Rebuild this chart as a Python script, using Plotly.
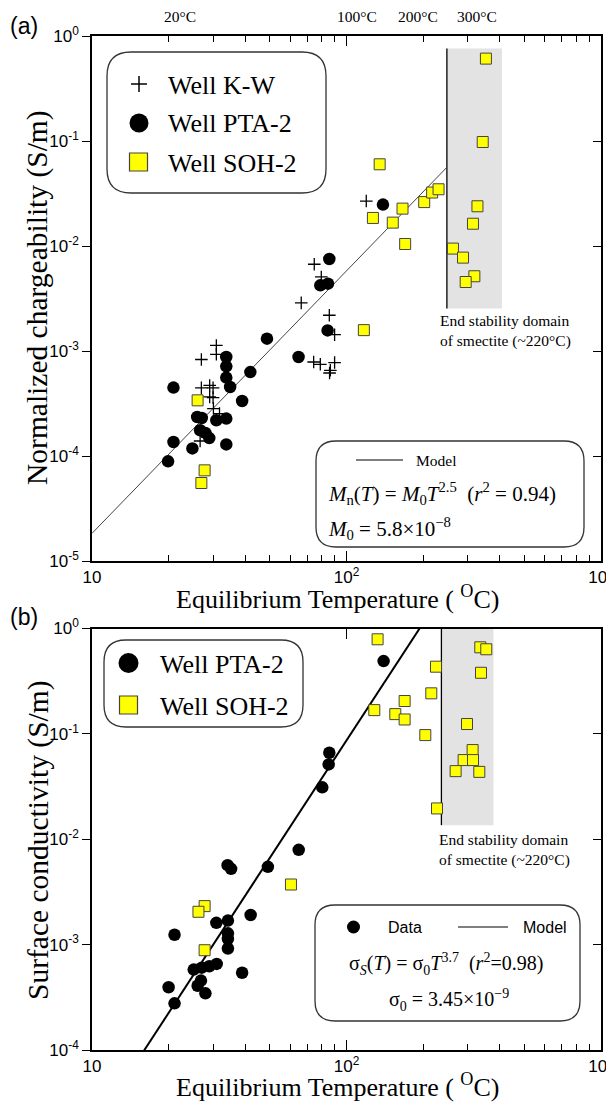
import plotly.graph_objects as go

W, H = 614, 1107
OFF = 8  # page body margin offset of the screenshot
SANS = "Liberation Sans, Arial, sans-serif"
SERIF = "Liberation Serif, Times New Roman, serif"

# ---------------- data: panel (a) normalized chargeability ----------------
kw_T = [30.8, 30.8, 26.9, 26.9, 29.0, 29.9, 29.0, 29.9, 30.0, 31.7, 26.6,
        74.7, 79.6, 66.4, 85.6, 89.8, 74.3, 78.9, 89.8, 86.4, 85.8, 119.6]
kw_M = [1.13e-3, 9.3e-4, 8.3e-4, 4.45e-4, 4.7e-4, 4.45e-4, 3.65e-4, 3.6e-4, 2.83e-4, 2.53e-4, 1.39e-4,
        6.7e-3, 5.07e-3, 2.87e-3, 2.19e-3, 1.43e-3, 7.86e-4, 7.47e-4, 7.76e-4, 6.55e-4, 6.17e-4, 2.68e-2]
pta_a_T = [33.7, 33.7, 33.7, 34.9, 41.9, 20.9, 38.9, 25.9, 27.0, 30.8, 33.7, 26.6, 27.9,
           28.9, 20.9, 24.8, 33.7, 19.9, 85.6, 78.9, 84.6, 84.3, 48.7, 64.8, 139.1]
pta_a_M = [8.77e-4, 7.15e-4, 5.58e-4, 4.54e-4, 6.3e-4, 4.48e-4, 3.34e-4, 2.35e-4, 2.3e-4, 2.19e-4,
           2.27e-4, 1.76e-4, 1.66e-4, 1.48e-4, 1.36e-4, 1.18e-4, 1.29e-4, 8.9e-5, 7.52e-3, 4.22e-3,
           4.38e-3, 1.57e-3, 1.31e-3, 8.77e-4, 2.48e-2]
soh_a_T = [353, 343, 135, 327, 314, 262, 287, 318, 294, 127, 152, 166, 202, 217, 230, 170,
           117, 26.0, 27.7, 26.9]
soh_a_M = [0.609, 0.0978, 0.060, 0.0239, 0.0163, 9.45e-3, 7.75e-3, 5.15e-3, 4.54e-3, 0.0185,
           0.0167, 0.0227, 0.0262, 0.0323, 0.0347, 0.01045, 1.58e-3, 3.39e-4, 7.3e-5, 5.53e-5]

# ---------------- data: panel (b) surface conductivity ----------------
pta_b_T = [139.9, 85.6, 85.1, 80.3, 64.9, 49.1, 34.1, 35.2, 42.0, 30.8, 34.2, 34.2, 34.2, 34.2,
           21.1, 38.9, 30.9, 28.9, 27.0, 25.1, 26.8, 26.0, 20.0, 27.9, 21.1]
pta_b_S = [0.491, 0.0662, 0.0513, 0.0311, 7.93e-3, 5.47e-3, 5.68e-3, 5.24e-3, 1.91e-3, 1.61e-3,
           1.69e-3, 1.28e-3, 1.13e-3, 9.18e-4, 1.24e-3, 5.41e-4, 6.56e-4, 6.24e-4, 6.04e-4, 5.8e-4,
           4.56e-4, 4.07e-4, 3.94e-4, 3.45e-4, 2.77e-4]
soh_b_T = [27.7, 26.2, 27.7, 60.5, 132.5, 128.6, 155.5, 169.2, 169.2, 204.0, 215.4, 224.7, 226.8,
           335.5, 354.2, 337.7, 297.5, 313.0, 288.5, 314.1, 268.4, 332.5]
soh_b_S = [2.32e-3, 2.05e-3, 8.85e-4, 3.72e-3, 0.790, 0.168, 0.154, 0.205, 0.137, 0.0974, 0.2425,
           0.434, 0.0196, 0.663, 0.635, 0.380, 0.124, 0.0702, 0.0564, 0.0564, 0.0443, 0.0436]

# models and smectite domains
M0, nA = 5.8e-8, 2.5
S0, nB = 3.45e-9, 3.7
model_a_T = [10, 248]
model_b_T = [10, 250]
band_a_T = [248, 408]
band_a_y = [2.54e-3, 0.76]
band_b_T = [236, 378]
band_b_y = [0.0136, 1.0]

# ticks
x_major = [10, 100, 1000]
x_major_text = ["10", "10<sup>2</sup>", "10<sup>3</sup>"]
x_minor = [20, 30, 40, 50, 60, 70, 80, 90, 200, 300, 400, 500, 600, 700, 800, 900]
ya_vals = [1e-5, 1e-4, 1e-3, 1e-2, 1e-1, 1]
ya_text = ["10<sup>-5</sup>", "10<sup>-4</sup>", "10<sup>-3</sup>", "10<sup>-2</sup>", "10<sup>-1</sup>", "10<sup>0</sup>"]
yb_vals = [1e-4, 1e-3, 1e-2, 1e-1, 1]
yb_text = ["10<sup>-4</sup>", "10<sup>-3</sup>", "10<sup>-2</sup>", "10<sup>-1</sup>", "10<sup>0</sup>"]
top_labels = ["20°C", "100°C", "200°C", "300°C"]

fig = go.Figure()

def band(T, yr, xa, ya):
    fig.add_trace(go.Scatter(x=[T[0], T[1], T[1], T[0], T[0]], y=[yr[0], yr[0], yr[1], yr[1], yr[0]],
                             fill="toself", fillcolor="#e3e3e3", mode="lines", line=dict(width=0),
                             xaxis=xa, yaxis=ya, hoverinfo="skip", showlegend=False))
    fig.add_trace(go.Scatter(x=[T[0], T[0]], y=yr, mode="lines", line=dict(color="black", width=1.3),
                             xaxis=xa, yaxis=ya, hoverinfo="skip", showlegend=False))

band(band_a_T, band_a_y, "x", "y")
band(band_b_T, band_b_y, "x3", "y3")

fig.add_trace(go.Scatter(x=model_a_T, y=[M0 * t ** nA for t in model_a_T], mode="lines",
                         line=dict(color="#444", width=1), xaxis="x", yaxis="y", showlegend=False))
fig.add_trace(go.Scatter(x=model_b_T, y=[S0 * t ** nB for t in model_b_T], mode="lines",
                         line=dict(color="black", width=2), xaxis="x3", yaxis="y3", showlegend=False))

circ = dict(symbol="circle", size=12.5, color="black", line=dict(width=0))
sq = dict(symbol="square", size=11, color="#ffff00", line=dict(color="#444", width=1))
cr = dict(symbol="cross-thin", size=9, line=dict(color="black", width=1.3))

fig.add_trace(go.Scatter(x=kw_T, y=kw_M, mode="markers", marker=cr, name="Well K-W", xaxis="x", yaxis="y", showlegend=False))
fig.add_trace(go.Scatter(x=pta_a_T, y=pta_a_M, mode="markers", marker=circ, name="Well PTA-2", xaxis="x", yaxis="y", showlegend=False))
fig.add_trace(go.Scatter(x=soh_a_T, y=soh_a_M, mode="markers", marker=sq, name="Well SOH-2", xaxis="x", yaxis="y", showlegend=False))
fig.add_trace(go.Scatter(x=pta_b_T, y=pta_b_S, mode="markers", marker=circ, name="Well PTA-2", xaxis="x3", yaxis="y3", showlegend=False))
fig.add_trace(go.Scatter(x=soh_b_T, y=soh_b_S, mode="markers", marker=sq, name="Well SOH-2", xaxis="x3", yaxis="y3", showlegend=False))
# register overlay subplots
for xa, ya in [("x2", "y"), ("x", "y2"), ("x4", "y3"), ("x3", "y4")]:
    fig.add_trace(go.Scatter(x=[], y=[], xaxis=xa, yaxis=ya, showlegend=False, hoverinfo="skip"))

# screen-pixel helpers (screen = figure + OFF)
def fx(x):
    return (x - OFF) / W
def fy(y):
    return 1 - (y - OFF) / H

XD = [fx(92), fx(601)]
YA = [fy(561), fy(36)]
YB = [fy(1050), fy(628.5)]

tickfont = dict(family=SANS, size=17, color="black")
def xax(anchor, top=False, overlay=None, minor=True, vals=x_major):
    d = dict(type="log", range=[1, 3], domain=XD, anchor=anchor, showgrid=False, zeroline=False,
             ticks="inside", tickvals=vals, ticktext=x_major_text if not top else None,
             ticklen=10, tickwidth=1.2, tickcolor="black", tickfont=tickfont,
             showticklabels=not top)
    if minor:
        d["minor"] = dict(tickvals=x_minor, ticks="inside", ticklen=6, tickwidth=1, tickcolor="black")
    if top:
        d.update(side="top", overlaying=overlay, showline=False)
    else:
        d.update(showline=True, linecolor="black", linewidth=1.5, mirror=True)
    return d

def yax(anchor, dom, rng, vals, text, right=False, overlay=None):
    d = dict(type="log", range=rng, anchor=anchor, showgrid=False, zeroline=False,
             tickvals=vals, tickfont=tickfont, tickwidth=1.2, tickcolor="black", ticklen=8)
    if right:
        d.update(side="right", overlaying=overlay, ticks="inside", showticklabels=False, showline=False)
    else:
        d.update(domain=dom, ticks="outside", ticktext=text, showline=True, linecolor="black",
                 linewidth=1.5, mirror=True)
    return d

fig.update_layout(
    width=W, height=H, margin=dict(l=0, r=0, t=0, b=0, autoexpand=False),
    paper_bgcolor="white", plot_bgcolor="white", showlegend=False,
    xaxis=xax("y"),
    xaxis2=xax("y", top=True, overlay="x"),
    xaxis3=xax("y3"),
    xaxis4=xax("y3", top=True, overlay="x3", minor=False, vals=[100]),
    yaxis=yax("x", YA, [-5, 0], ya_vals, ya_text),
    yaxis2=yax("x", YA, [-5, 0], ya_vals, ya_text, right=True, overlay="y"),
    yaxis3=yax("x3", YB, [-4, 0], yb_vals, yb_text),
    yaxis4=yax("x3", YB, [-4, 0], yb_vals, yb_text, right=True, overlay="y3"),
)

def P(x, y):
    return f"{fx(x):.5f},{fy(y):.5f}"

def rrect(x0, y0, x1, y1, r):
    path = (f"M{P(x0 + r, y0)} L{P(x1 - r, y0)} Q{P(x1, y0)} {P(x1, y0 + r)} "
            f"L{P(x1, y1 - r)} Q{P(x1, y1)} {P(x1 - r, y1)} L{P(x0 + r, y1)} "
            f"Q{P(x0, y1)} {P(x0, y1 - r)} L{P(x0, y0 + r)} Q{P(x0, y0)} {P(x0 + r, y0)} Z")
    return dict(type="path", path=path, xref="paper", yref="paper",
                line=dict(color="#333", width=1.3), fillcolor="rgba(0,0,0,0)")

def pline(x0, y0, x1, y1, w=1.3):
    return dict(type="line", xref="paper", yref="paper", x0=fx(x0), y0=fy(y0), x1=fx(x1), y1=fy(y1),
                line=dict(color="black", width=w))

def pcircle(cx, cy, r):
    return dict(type="circle", xref="paper", yref="paper", x0=fx(cx - r), x1=fx(cx + r),
                y0=fy(cy + r), y1=fy(cy - r), fillcolor="black", line=dict(width=0))

def psquare(cx, cy, r):
    return dict(type="rect", xref="paper", yref="paper", x0=fx(cx - r), x1=fx(cx + r),
                y0=fy(cy + r), y1=fy(cy - r), fillcolor="#ffff00", line=dict(color="#444", width=1.2))

LA = [84, 123, 162]   # legend row centres, panel (a)
shapes = [
    rrect(107, 52, 326, 193, 24),
    pline(131, LA[0], 147, LA[0], 1.5), pline(139, LA[0] - 8, 139, LA[0] + 8, 1.5),
    pcircle(139, LA[1], 9.5),
    psquare(138.5, LA[2], 9),
    rrect(316, 441, 584, 547, 20),
    pline(356, 460, 403, 460, 1.2),
    rrect(104, 640, 303, 727, 22),
    pcircle(128.5, 663, 10),
    psquare(128.5, 705, 9),
    rrect(315, 905, 580, 1021, 20),
    pcircle(353.5, 927, 6.5),
    pline(458, 927, 508, 927, 1.2),
]
fig.update_layout(shapes=shapes)

def txt(x, y, s, size, family=SERIF, xanchor="left", angle=0, align="left"):
    return dict(x=fx(x), y=fy(y), xref="paper", yref="paper", text=s, showarrow=False,
                xanchor=xanchor, yanchor="middle", textangle=angle, align=align,
                font=dict(family=family, size=size, color="black"))

xtitle = "Equilibrium Temperature ( <sup>O</sup>C)"
anns = [
    txt(8, 26, "(a)", 23, SANS),
    txt(8, 617, "(b)", 23, SANS),
    txt(180, 16, top_labels[0], 15.5, xanchor="center"),
    txt(357, 16, top_labels[1], 15.5, xanchor="center"),
    txt(418, 16, top_labels[2], 15.5, xanchor="center"),
    txt(477, 16, top_labels[3], 15.5, xanchor="center"),
    txt(166, LA[0] + 1, "Well K-W", 26),
    txt(166, LA[1] + 1, "Well PTA-2", 26),
    txt(166, LA[2] + 1, "Well SOH-2", 26),
    txt(158, 664, "Well PTA-2", 26),
    txt(158, 706, "Well SOH-2", 26),
    txt(438, 331, "End stability domain<br>of smectite (~220°C)", 15.5),
    txt(437, 850, "End stability domain<br>of smectite (~220°C)", 15.5),
    txt(414, 460, "Model", 15.5),
    txt(326, 493, "<i>M</i><sub>n</sub>(<i>T</i>) = <i>M</i><sub>0</sub><i>T</i><sup>2.5</sup>  (<i>r</i><sup>2</sup> = 0.94)", 21),
    txt(326, 528, "<i>M</i><sub>0</sub> = 5.8×10<sup>−8</sup>", 21),
    txt(386, 927, "Data", 16, SANS),
    txt(521, 927, "Model", 16, SANS),
    txt(347, 964, "σ<sub><i>S</i></sub>(<i>T</i>) = σ<sub>0</sub><i>T</i><sup>3.7</sup>  (<i>r</i><sup>2</sup>=0.98)", 20),
    txt(387, 1000, "σ<sub>0</sub> = 3.45×10<sup>−9</sup>", 20),
    txt(337, 597, xtitle, 26, xanchor="center"),
    txt(337, 1085, xtitle, 26, xanchor="center"),
    txt(38, 298, "Normalized chargeability (S/m)", 29.5, xanchor="center", angle=-90),
    txt(38, 840, "Surface conductivity (S/m)", 29.5, xanchor="center", angle=-90),
]
fig.update_layout(annotations=anns)

fig.write_html("out.html")
